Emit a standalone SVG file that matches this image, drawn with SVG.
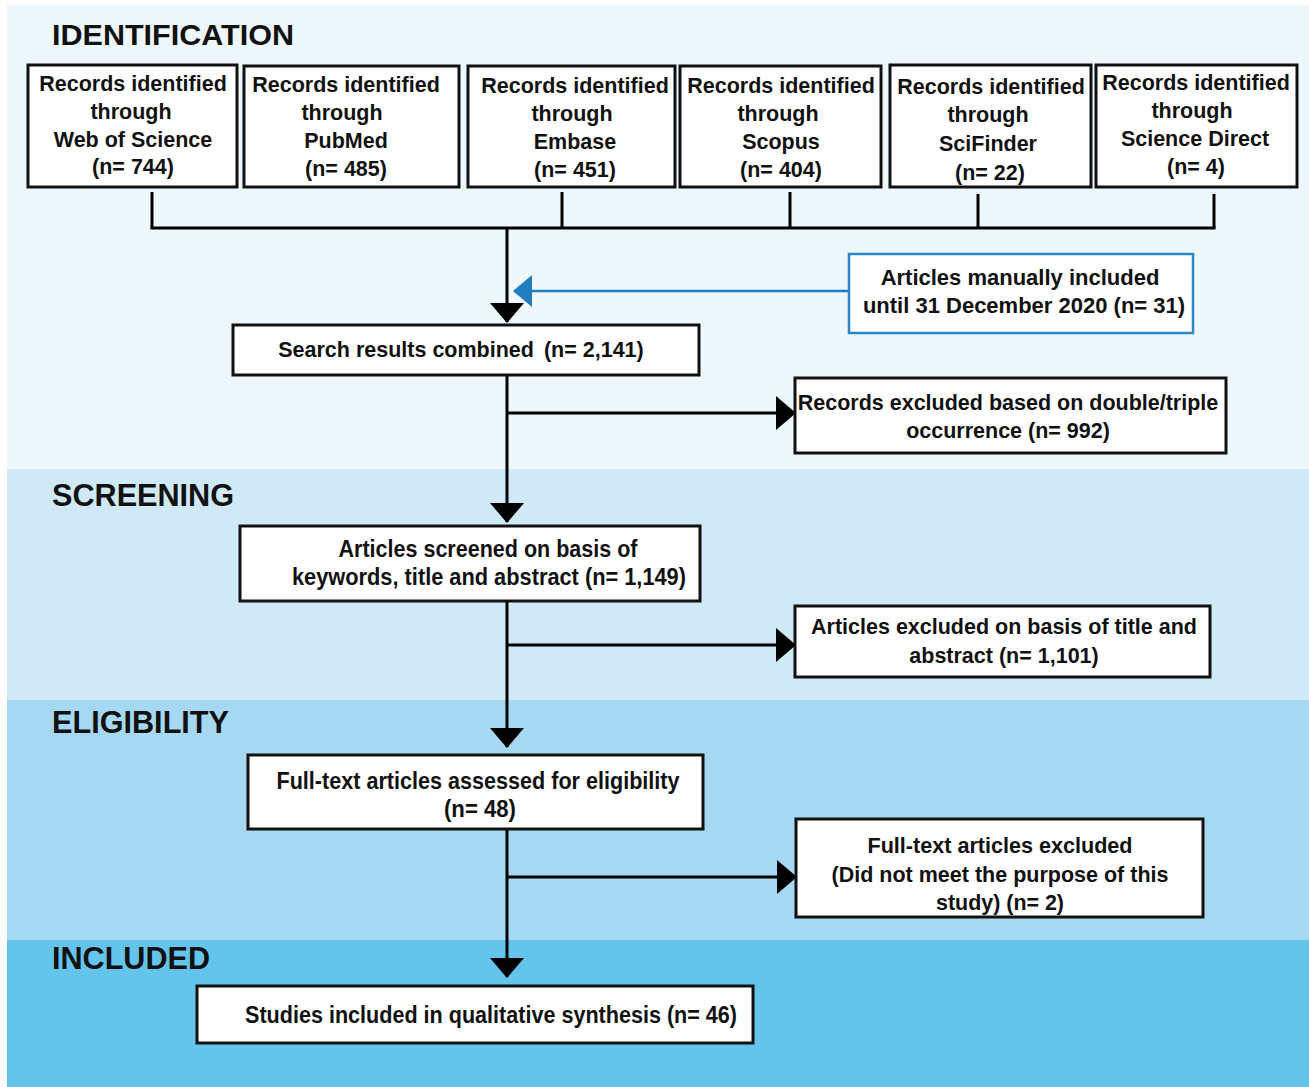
<svg xmlns="http://www.w3.org/2000/svg" width="1309" height="1087" viewBox="0 0 1309 1087">
<defs>
<style>
text{font-family:"Liberation Sans",Arial,sans-serif;font-weight:bold;fill:#111;}
.t{font-size:21.5px;text-anchor:middle;}
.n{font-size:23px;}
.h{font-size:30px;}
.hn{font-size:32px;}
.box{fill:#fff;stroke:#111;stroke-width:3;}
.bbox{fill:#fff;stroke:#2a86c6;stroke-width:2.5;}
.ln{fill:none;stroke:#000;stroke-width:3;}
.bl{fill:none;stroke:#1f7dc0;stroke-width:2.5;}
</style>
<marker id="ah" viewBox="0 0 20 34" refX="19" refY="17" markerWidth="20" markerHeight="34" markerUnits="userSpaceOnUse" orient="auto">
<path d="M0,0 L20,17 L0,34 Z" fill="#000"/>
</marker>
<marker id="bh" viewBox="0 0 19 32" refX="18" refY="16" markerWidth="19" markerHeight="32" markerUnits="userSpaceOnUse" orient="auto">
<path d="M0,0 L19,16 L0,32 Z" fill="#1f7dc0"/>
</marker>
</defs>
<rect x="0" y="0" width="1309" height="1087" fill="#fff"/>
<rect x="7" y="5" width="1302" height="465" fill="#eef7fc"/>
<rect x="7" y="469" width="1302" height="232" fill="#cfe9f6"/>
<rect x="7" y="700" width="1302" height="241" fill="#a6d9f1"/>
<rect x="7" y="940" width="1302" height="147" fill="#64c4eb"/>

<g id="labels">
<text class="h" x="52" y="45" textLength="242" lengthAdjust="spacingAndGlyphs">IDENTIFICATION</text>
<text class="hn" x="52" y="506" textLength="182" lengthAdjust="spacingAndGlyphs">SCREENING</text>
<text class="hn" x="52" y="733" textLength="177" lengthAdjust="spacingAndGlyphs">ELIGIBILITY</text>
<text class="hn" x="52" y="969" textLength="158" lengthAdjust="spacingAndGlyphs">INCLUDED</text>
</g>

<g id="connectors">
<polyline class="ln" points="152,192 152,228"/>
<polyline class="ln" points="562,192 562,228"/>
<polyline class="ln" points="790,192 790,228"/>
<polyline class="ln" points="978,194 978,228"/>
<polyline class="ln" points="1214,194 1214,228"/>
<polyline class="ln" points="150.5,228 1215.5,228"/>
<line class="ln" x1="507" y1="228" x2="507" y2="322" marker-end="url(#ah)"/>
<line class="bl" x1="849" y1="291" x2="514" y2="291" marker-end="url(#bh)"/>
<line class="ln" x1="507" y1="375" x2="507" y2="522" marker-end="url(#ah)"/>
<line class="ln" x1="507" y1="413" x2="795" y2="413" marker-end="url(#ah)"/>
<line class="ln" x1="507" y1="601" x2="507" y2="747" marker-end="url(#ah)"/>
<line class="ln" x1="507" y1="645" x2="795" y2="645" marker-end="url(#ah)"/>
<line class="ln" x1="507" y1="829" x2="507" y2="977" marker-end="url(#ah)"/>
<line class="ln" x1="507" y1="877" x2="796" y2="877" marker-end="url(#ah)"/>
</g>

<g id="wos">
<rect class="box" x="28" y="65" width="209" height="122"/>
<text class="t" x="133" y="91">Records identified</text>
<text class="t" x="131" y="119">through</text>
<text class="t" x="133" y="147">Web of Science</text>
<text class="t" x="133" y="174">(n= 744)</text>
</g>
<g id="pubmed">
<rect class="box" x="244" y="66" width="215" height="121"/>
<text class="t" x="346" y="92">Records identified</text>
<text class="t" x="342" y="120">through</text>
<text class="t" x="346" y="148">PubMed</text>
<text class="t" x="346" y="176">(n= 485)</text>
</g>
<g id="embase">
<rect class="box" x="468" y="66" width="207" height="121"/>
<text class="t" x="575" y="93">Records identified</text>
<text class="t" x="572" y="121">through</text>
<text class="t" x="575" y="149">Embase</text>
<text class="t" x="575" y="177">(n= 451)</text>
</g>
<g id="scopus">
<rect class="box" x="680" y="66" width="201" height="121"/>
<text class="t" x="781" y="93">Records identified</text>
<text class="t" x="778" y="121">through</text>
<text class="t" x="781" y="149">Scopus</text>
<text class="t" x="781" y="177">(n= 404)</text>
</g>
<g id="scifinder">
<rect class="box" x="890" y="65" width="201" height="122"/>
<text class="t" x="991" y="94">Records identified</text>
<text class="t" x="988" y="122">through</text>
<text class="t" x="988" y="151">SciFinder</text>
<text class="t" x="990" y="180">(n= 22)</text>
</g>
<g id="sciencedirect">
<rect class="box" x="1096" y="65" width="201" height="122"/>
<text class="t" x="1196" y="90">Records identified</text>
<text class="t" x="1192" y="118">through</text>
<text class="t" x="1195" y="146">Science Direct</text>
<text class="t" x="1196" y="174">(n= 4)</text>
</g>

<g id="manual">
<rect class="bbox" x="849" y="254" width="344" height="79"/>
<text class="t" x="1020" y="285" style="font-size:22px">Articles manually included</text>
<text class="t" x="1024" y="313" style="font-size:22px">until 31 December 2020 (n= 31)</text>
</g>

<g id="combined">
<rect class="box" x="233" y="325" width="466" height="50"/>
<text class="t" x="461" y="357">Search results combined<tspan dx="10">(n= 2,141)</tspan></text>
</g>

<g id="duplicates">
<rect class="box" x="795" y="378" width="431" height="75"/>
<text class="t" x="1008" y="410">Records excluded based on double/triple</text>
<text class="t" x="1008" y="438">occurrence (n= 992)</text>
</g>

<g id="screened">
<rect class="box" x="240" y="526" width="460" height="75"/>
<text class="t n" x="488" y="557" textLength="299" lengthAdjust="spacingAndGlyphs">Articles screened on basis of</text>
<text class="t n" x="489" y="585" textLength="394" lengthAdjust="spacingAndGlyphs">keywords, title and abstract (n= 1,149)</text>
</g>

<g id="excluded-title">
<rect class="box" x="795" y="606" width="415" height="71"/>
<text class="t" x="1004" y="634">Articles excluded on basis of title and</text>
<text class="t" x="1004" y="663">abstract (n= 1,101)</text>
</g>

<g id="fulltext">
<rect class="box" x="248" y="755" width="455" height="74"/>
<text class="t n" x="478" y="789" textLength="403" lengthAdjust="spacingAndGlyphs">Full-text articles assessed for eligibility</text>
<text class="t n" x="480" y="817" textLength="72" lengthAdjust="spacingAndGlyphs">(n= 48)</text>
</g>

<g id="fulltext-excluded">
<rect class="box" x="796" y="819" width="407" height="98"/>
<text class="t" x="1000" y="853" textLength="265" lengthAdjust="spacingAndGlyphs">Full-text articles excluded</text>
<text class="t" x="1000" y="882" textLength="337" lengthAdjust="spacingAndGlyphs">(Did not meet the purpose of this</text>
<text class="t" x="1000" y="910" textLength="128" lengthAdjust="spacingAndGlyphs">study) (n= 2)</text>
</g>

<g id="included">
<rect class="box" x="197" y="986" width="556" height="57"/>
<text class="t n" x="491" y="1023" textLength="492" lengthAdjust="spacingAndGlyphs">Studies included in qualitative synthesis (n= 46)</text>
</g>
</svg>
